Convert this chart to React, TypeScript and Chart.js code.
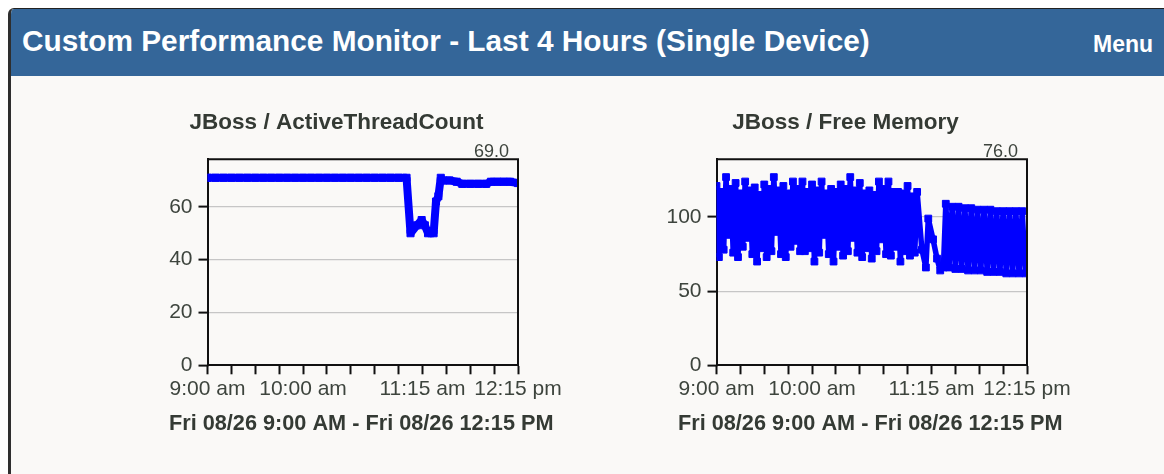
import React, { useEffect, useRef } from 'react';
import { Chart, registerables } from 'chart.js';

Chart.register(...registerables);

const headerTitle = 'Custom Performance Monitor - Last 4 Hours (Single Device)';
const menuLabel = 'Menu';

const xTickValues = [0, 60, 135, 195];
const xTickLabels = ['9:00 am', '10:00 am', '11:15 am', '12:15 pm'];
const rangeLabel = 'Fri 08/26 9:00 AM - Fri 08/26 12:15 PM';

// minutes after 9:00 am
const threadTitle = 'JBoss / ActiveThreadCount';
const threadTimes = [
  0, 5, 10, 15, 20, 25, 30, 35, 40, 45, 50, 55, 60, 65, 70, 75, 80, 85, 90, 95, 100, 105, 110, 115, 120, 125,
  127.5, 131.5, 134.5, 136.5, 138.5, 142, 143.5, 145, 146.5, 148, 152, 156.5, 160, 165, 170, 175, 178, 182, 186, 190, 195,
];
const threadValues = [
  71, 71, 71, 71, 71, 71, 71, 71, 71, 71, 71, 71, 71, 71, 71, 71, 71, 71, 71, 71, 71, 71, 71, 71, 71, 71,
  50, 53, 55, 53, 50, 50, 62, 64, 71, 70, 70, 69.5, 68.7, 68.7, 68.7, 68.7, 69.5, 69.5, 69.5, 69.5, 69,
];
const threadLast = '69.0';
const threadYMax = 78;
const threadYStep = 20;

const memTitle = 'JBoss / Free Memory';
const memTimes = [
  0, 1.5, 3, 4.5, 6, 7.5, 9, 10.5, 12, 13.5, 15, 16.5, 18, 19.5, 21, 22.5, 24, 25.5, 27, 28.5,
  30, 31.5, 33, 34.5, 36, 37.5, 39, 40.5, 42, 43.5, 45, 46.5, 48, 49.5, 51, 52.5, 54, 55.5, 57, 58.5,
  60, 61.5, 63, 64.5, 66, 67.5, 69, 70.5, 72, 73.5, 75, 76.5, 78, 79.5, 81, 82.5, 84, 85.5, 87, 88.5,
  90, 91.5, 93, 94.5, 96, 97.5, 99, 100.5, 102, 103.5, 105, 106.5, 108, 109.5, 111, 112.5, 114, 115.5, 117, 118.5,
  120, 121.5, 123, 124.5, 126,
  129, 131.5, 133, 136, 138.5, 140.5, 142.5, 144,
  146, 148, 150, 152, 154, 156, 158, 160, 162, 164, 166, 168, 170, 172, 174, 176, 178, 180, 182, 184, 186, 188, 190, 192, 194, 195,
];
const memValues = [
  121, 73, 117, 78, 127, 88, 119, 76, 123, 73, 116, 80, 124, 86, 118, 75, 120, 70, 115, 79,
  122, 73, 119, 77, 127, 90, 118, 75, 121, 73, 116, 80, 124, 84, 119, 77, 124, 77, 117, 79,
  122, 70, 118, 76, 124, 88, 116, 75, 119, 70, 117, 80, 122, 74, 119, 77, 127, 86, 118, 76,
  123, 73, 116, 79, 118, 72, 115, 77, 124, 85, 119, 75, 124, 74, 117, 80, 117, 70, 116, 77,
  121, 74, 114, 76, 117,
  78, 66, 99, 85, 72, 64, 66, 109,
  66, 107, 65, 107, 65, 106, 64, 106, 64, 105, 64, 105, 63, 105, 63, 104, 63, 104, 62, 104, 62, 104, 62, 104, 62, 76,
];
const memLast = '76.0';
const memYMax = 139;
const memYStep = 50;

const FONT = "'Liberation Sans', Arial, Helvetica, sans-serif";
const TEXT = '#3d443d';
const DARK = '#343a34';

function framePlugin(lastLabel: string) {
  return {
    id: 'frame',
    afterDatasetsDraw(chart: any) {
      const { ctx, chartArea } = chart;
      const { left, right, top, bottom } = chartArea;
      ctx.save();
      ctx.strokeStyle = '#111';
      ctx.lineWidth = 2;
      ctx.beginPath();
      ctx.moveTo(left, top);
      ctx.lineTo(right, top);
      ctx.lineTo(right, bottom);
      ctx.stroke();
      ctx.fillStyle = TEXT;
      ctx.font = `18px ${FONT}`;
      ctx.textAlign = 'right';
      ctx.textBaseline = 'alphabetic';
      ctx.fillText(lastLabel, right - 9, top - 2.5);
      ctx.fillStyle = DARK;
      ctx.font = `bold 21.7px ${FONT}`;
      ctx.textAlign = 'center';
      ctx.fillText(rangeLabel, (left + right) / 2 - 1.5, bottom + 64.7);
      ctx.restore();
    },
  };
}

function buildConfig(
  title: string,
  times: number[],
  values: number[],
  yMax: number,
  yStep: number,
  lastLabel: string,
  lineWidth: number,
  pointR: number,
): any {
  const data = times.map((t, i) => ({ x: t, y: values[i] }));
  const tickFont = { family: FONT, size: 21 };
  return {
    type: 'line',
    data: {
      datasets: [
        {
          data,
          borderColor: '#0000ff',
          backgroundColor: '#0000ff',
          borderWidth: lineWidth,
          borderJoinStyle: 'bevel',
          pointStyle: 'rect',
          pointRadius: pointR,
          pointBorderWidth: 1,
          pointBackgroundColor: '#0000ff',
          pointBorderColor: '#0000ff',
          tension: 0,
          fill: false,
        },
      ],
    },
    options: {
      responsive: false,
      animation: false,
      events: [],
      layout: { padding: { left: 0, right: 48, top: 9.5, bottom: 0 }, autoPadding: false },
      plugins: {
        legend: { display: false },
        tooltip: { enabled: false },
        title: {
          display: true,
          text: title,
          color: DARK,
          font: { family: FONT, size: 22.5, weight: 'bold', lineHeight: 1.2 },
          padding: { top: 0, bottom: 22.8 },
        },
      },
      scales: {
        x: {
          type: 'linear',
          min: 0,
          max: 195,
          afterFit: (s: any) => {
            s.height = 70.7;
          },
          ticks: {
            stepSize: 15,
            autoSkip: false,
            maxRotation: 0,
            minRotation: 0,
            padding: 2.5,
            color: TEXT,
            font: tickFont,
            callback: (v: any) => {
              const i = xTickValues.indexOf(Number(v));
              return i >= 0 ? xTickLabels[i] : '';
            },
          },
          grid: { drawOnChartArea: false, drawTicks: true, tickLength: 9, tickWidth: 2, tickColor: '#111' },
          border: { display: true, color: '#111', width: 2 },
        },
        y: {
          min: 0,
          max: yMax,
          afterFit: (s: any) => {
            s.width = 52.5;
          },
          afterBuildTicks: (s: any) => {
            s.ticks = s.ticks.filter((t: any) => t.value % yStep === 0);
          },
          ticks: { stepSize: yStep, padding: 6, color: TEXT, font: tickFont },
          grid: {
            color: (c: any) => (c.tick && c.tick.value === 0 ? 'rgba(0,0,0,0)' : '#c6c6c6'),
            lineWidth: 1.2,
            drawTicks: true,
            tickLength: 9,
            tickWidth: 2,
            tickColor: '#111',
          },
          border: { display: true, color: '#111', width: 2 },
        },
      },
    },
    plugins: [framePlugin(lastLabel)],
  };
}

export default function App() {
  const leftRef = useRef<HTMLCanvasElement | null>(null);
  const rightRef = useRef<HTMLCanvasElement | null>(null);

  useEffect(() => {
    document.documentElement.style.overflow = 'hidden';
    const charts: Chart[] = [];
    if (leftRef.current) {
      charts.push(
        new Chart(
          leftRef.current,
          buildConfig(threadTitle, threadTimes, threadValues, threadYMax, threadYStep, threadLast, 8, 5),
        ),
      );
    }
    if (rightRef.current) {
      charts.push(
        new Chart(rightRef.current, buildConfig(memTitle, memTimes, memValues, memYMax, memYStep, memLast, 5.5, 4.8)),
      );
    }
    return () => charts.forEach((c) => c.destroy());
  }, []);

  return (
    <div
      style={{
        position: 'fixed',
        left: 8,
        top: 8,
        width: 1156,
        height: 466,
        boxSizing: 'border-box',
        background: '#faf9f7',
        borderLeft: '3px solid #2e2e2e',
        borderTop: '1px solid #222',
        borderTopLeftRadius: 6,
        overflow: 'hidden',
        fontFamily: FONT,
      }}
    >
      <div style={{ position: 'absolute', left: 0, top: 0, width: '100%', height: 67, background: '#346699' }}>
        <div
          style={{
            position: 'absolute',
            left: 11,
            top: 17,
            fontSize: 29.8,
            lineHeight: 1,
            fontWeight: 'bold',
            color: '#ffffff',
            whiteSpace: 'nowrap',
          }}
        >
          {headerTitle}
        </div>
        <div
          style={{
            position: 'absolute',
            left: 1082,
            top: 23.5,
            fontSize: 23,
            lineHeight: 1,
            fontWeight: 'bold',
            color: '#ffffff',
            whiteSpace: 'nowrap',
          }}
        >
          {menuLabel}
        </div>
      </div>
      <canvas
        ref={leftRef}
        width={411}
        height={336}
        style={{ position: 'absolute', left: 144, top: 91, width: 411, height: 336 }}
      />
      <canvas
        ref={rightRef}
        width={411}
        height={336}
        style={{ position: 'absolute', left: 653, top: 91, width: 411, height: 336 }}
      />
    </div>
  );
}
